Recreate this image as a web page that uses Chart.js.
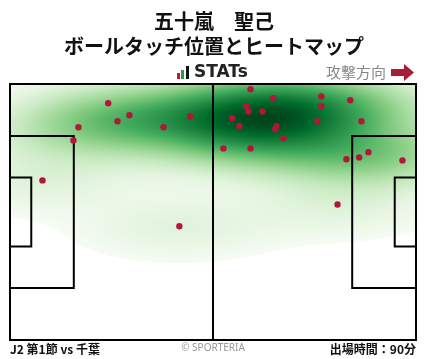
<!DOCTYPE html>
<html>
<head>
<meta charset="utf-8">
<script src="https://cdn.jsdelivr.net/npm/chart.js@4.4.1/dist/chart.umd.min.js"></script>
<style>
  body { margin: 0; background: #fff; }
  canvas { display: block; }
</style>
</head>
<body>
<canvas id="touchmap" width="428" height="359"></canvas>
<script>
// ball touch positions, metres (x: own goal -> attack direction, y: from top touchline)
const touchX = [25.4, 17.7, 16.4, 27.8, 30.9, 39.7, 46.6, 8.4, 62.2, 68.1, 80.5, 88.0, 61.1, 61.7, 65.3, 80.5,
  57.5, 59.3, 68.9, 68.6, 79.5, 90.9, 70.7, 55.2, 62.2, 87.0, 90.3, 92.7, 101.5, 84.7, 43.8];
const touchY = [5.1, 11.5, 15.0, 9.9, 8.3, 11.5, 8.6, 25.6, 1.4, 3.8, 3.3, 4.3, 5.9, 7.3, 7.3, 5.9,
  9.1, 11.2, 11.2, 12.0, 9.9, 9.9, 14.4, 17.1, 17.1, 20.0, 19.5, 18.1, 20.3, 32.0, 37.8];

const titleLines = ['五十嵐　聖己', 'ボールタッチ位置とヒートマップ'];
const footLeft = 'J2 第1節 vs 千葉';
const footRight = '出場時間：90分';

// pitch
const PW = 105, PH = 68;
const PEN_D = 16.5, PEN_W = 40.32, GA_D = 5.5, GA_W = 18.32;
const BW_ADJUST = 1.15, THRESH = 0.012, GAMMA = 0.75;

// matplotlib Greens
const greens = [[247,252,245],[229,245,224],[199,233,192],[161,217,155],[116,196,118],[65,171,93],[35,139,69],[0,109,44],[0,68,27]];
function greenAt(t) {
  t = Math.max(0, Math.min(1, t)) * (greens.length - 1);
  const i = Math.min(Math.floor(t), greens.length - 2), f = t - i;
  const a = greens[i], b = greens[i + 1];
  return [a[0] + (b[0] - a[0]) * f, a[1] + (b[1] - a[1]) * f, a[2] + (b[2] - a[2]) * f];
}

// gaussian kde (scott) like seaborn
function makeKde(xs, ys) {
  const n = xs.length;
  const mx = xs.reduce((s, v) => s + v, 0) / n, my = ys.reduce((s, v) => s + v, 0) / n;
  let sxx = 0, syy = 0, sxy = 0;
  for (let i = 0; i < n; i++) {
    sxx += (xs[i] - mx) ** 2; syy += (ys[i] - my) ** 2; sxy += (xs[i] - mx) * (ys[i] - my);
  }
  const f2 = Math.pow(n, -1 / 3) * BW_ADJUST * BW_ADJUST;
  const a = sxx / (n - 1) * f2, d = syy / (n - 1) * f2, b = sxy / (n - 1) * f2;
  const det = a * d - b * b;
  const ia = d / det, id = a / det, ib = -b / det;
  return function (x, y) {
    let s = 0;
    for (let i = 0; i < n; i++) {
      const dx = x - xs[i], dy = y - ys[i];
      s += Math.exp(-0.5 * (ia * dx * dx + 2 * ib * dx * dy + id * dy * dy));
    }
    return s;
  };
}

let heatImg = null;
const heatPlugin = {
  id: 'heat',
  beforeDatasetsDraw(chart) {
    const { ctx, chartArea: ca, scales: { x, y } } = chart;
    if (!heatImg) {
      const kde = makeKde(touchX, touchY);
      // threshold: lowest share of mass (grid over extended area)
      const vals = [];
      for (let gx = -30; gx <= PW + 30; gx += 0.5)
        for (let gy = -20; gy <= PH + 20; gy += 0.5) vals.push(kde(gx, gy));
      vals.sort((p, q) => p - q);
      const total = vals.reduce((s, v) => s + v, 0);
      let acc = 0, thr = 0;
      for (const v of vals) { acc += v; if (acc >= THRESH * total) { thr = v; break; } }
      const vmax = vals[vals.length - 1];
      const w = Math.round(ca.right - ca.left), h = Math.round(ca.bottom - ca.top);
      const off = document.createElement('canvas');
      off.width = w; off.height = h;
      const octx = off.getContext('2d');
      const img = octx.createImageData(w, h);
      for (let j = 0; j < h; j++) {
        const vy = y.getValueForPixel(ca.top + j + 0.5);
        for (let i = 0; i < w; i++) {
          const vx = x.getValueForPixel(ca.left + i + 0.5);
          const dv = kde(vx, vy);
          const k = (j * w + i) * 4;
          if (dv < thr) { img.data[k + 3] = 0; continue; }
          const c = greenAt(Math.pow((dv - thr) / (vmax - thr), GAMMA));
          img.data[k] = c[0]; img.data[k + 1] = c[1]; img.data[k + 2] = c[2]; img.data[k + 3] = 255;
        }
      }
      octx.putImageData(img, 0, 0);
      heatImg = off;
    }
    ctx.drawImage(heatImg, Math.round(ca.left), Math.round(ca.top));

    // pitch lines
    const px = v => x.getPixelForValue(v), py = v => y.getPixelForValue(v);
    ctx.save();
    ctx.strokeStyle = '#000';
    ctx.lineWidth = 2;
    ctx.strokeRect(px(0), py(0), px(PW) - px(0), py(PH) - py(0));
    ctx.beginPath();
    ctx.moveTo(px(PW / 2), py(0)); ctx.lineTo(px(PW / 2), py(PH));
    const boxes = [[PEN_D, PEN_W], [GA_D, GA_W]];
    for (const [dep, wid] of boxes) {
      const y0 = (PH - wid) / 2, y1 = (PH + wid) / 2;
      ctx.moveTo(px(0), py(y0)); ctx.lineTo(px(dep), py(y0)); ctx.lineTo(px(dep), py(y1)); ctx.lineTo(px(0), py(y1));
      ctx.moveTo(px(PW), py(y0)); ctx.lineTo(px(PW - dep), py(y0)); ctx.lineTo(px(PW - dep), py(y1)); ctx.lineTo(px(PW), py(y1));
    }
    ctx.stroke();
    ctx.restore();
  }
};

const textPlugin = {
  id: 'texts',
  afterDraw(chart) {
    const ctx = chart.ctx;
    ctx.save();
    ctx.textBaseline = 'middle';
    ctx.fillStyle = '#111';
    ctx.textAlign = 'center';
    ctx.font = 'bold 20px "Noto Sans CJK JP"';
    ctx.fillText(titleLines[0], 214, 21);
    ctx.fillText(titleLines[1], 214, 46);

    // STATs logo
    ctx.fillStyle = '#d0142c'; ctx.fillRect(177, 73, 3, 6);
    ctx.fillStyle = '#2c9a3c'; ctx.fillRect(181, 70, 3, 9);
    ctx.fillStyle = '#111'; ctx.fillRect(186, 66, 3, 13);
    ctx.textAlign = 'left';
    ctx.fillStyle = '#222';
    ctx.font = 'bold 17px "DejaVu Sans"';
    ctx.fillText('STATs', 194, 73);

    // attack direction
    ctx.fillStyle = '#888';
    ctx.font = '15px "Noto Sans CJK JP"';
    ctx.fillText('攻撃方向', 326, 72);
    ctx.fillStyle = '#a51d36';
    ctx.beginPath();
    ctx.moveTo(391, 69); ctx.lineTo(404, 69); ctx.lineTo(404, 64); ctx.lineTo(414, 72.5);
    ctx.lineTo(404, 81); ctx.lineTo(404, 76); ctx.lineTo(391, 76); ctx.closePath();
    ctx.fill();

    // footer
    ctx.fillStyle = '#111';
    ctx.font = 'bold 12px "Noto Sans CJK JP"';
    ctx.fillText(footLeft, 10, 349);
    ctx.textAlign = 'right';
    ctx.fillText(footRight, 416, 349);
    ctx.textAlign = 'center';
    ctx.fillStyle = '#999';
    ctx.font = '10px "Noto Sans"';
    ctx.fillText('© SPORTERIA', 213, 348);
    ctx.restore();
  }
};

const data = {
  datasets: [{
    data: touchX.map((v, i) => ({ x: v, y: touchY[i] })),
    backgroundColor: '#b3163a',
    borderWidth: 0,
    pointRadius: 3.2
  }]
};

new Chart(document.getElementById('touchmap'), {
  type: 'scatter',
  data: data,
  options: {
    responsive: false,
    animation: false,
    layout: { padding: { left: 10, top: 84, right: 12, bottom: 19 } },
    scales: {
      x: { min: 0, max: PW, display: false },
      y: { min: 0, max: PH, reverse: true, display: false }
    },
    plugins: { legend: { display: false }, tooltip: { enabled: false } }
  },
  plugins: [heatPlugin, textPlugin]
});
</script>
</body>
</html>
